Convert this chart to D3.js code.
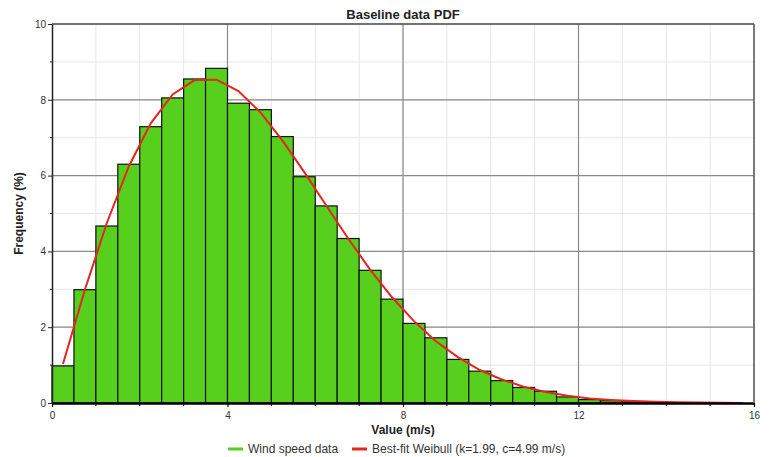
<!DOCTYPE html>
<html>
<head>
<meta charset="utf-8">
<script src="https://cdn.jsdelivr.net/npm/d3@7"></script>
<style>
  body { margin: 0; background: #fff; }
  svg { display: block; font-family: "Liberation Sans", Arial, sans-serif; }
</style>
</head>
<body>
<svg id="chart" width="769" height="457"></svg>
<script>
// Histogram bins (m/s), 0.5 m/s wide
const binStarts = d3.range(0, 16, 0.5);
const binFreq = [
  0.98, 2.99, 4.67, 6.30, 7.29, 8.05, 8.55, 8.83,
  7.91, 7.74, 7.03, 5.97, 5.20, 4.34, 3.50, 2.74,
  2.10, 1.72, 1.15, 0.84, 0.59, 0.41, 0.31, 0.16,
  0.09, 0.06, 0.03, 0.02, 0.01, 0.01, 0, 0
];

// Best-fit Weibull, read at bin centres
const fitX = d3.range(0.25, 16, 0.5);
const fitY = [
  1.03, 2.99, 4.75, 6.24, 7.38, 8.14, 8.52, 8.53,
  8.23, 7.67, 6.93, 6.09, 5.21, 4.34, 3.52, 2.79,
  2.16, 1.63, 1.21, 0.87, 0.62, 0.43, 0.29, 0.19,
  0.12, 0.08, 0.05, 0.03, 0.02, 0.01, 0.006, 0.003
];

const xTicks = [0, 4, 8, 12, 16];
const yTicks = [0, 2, 4, 6, 8, 10];

const svg = d3.select('#chart');
const margin = { left: 52, right: 15, top: 24, bottom: 54 };
const W = 769, H = 457;
const x = d3.scaleLinear().domain([0, 16]).range([margin.left, W - margin.right]);
const y = d3.scaleLinear().domain([0, 10]).range([H - margin.bottom, margin.top]);

const [x0, x1] = x.range();
const [y0, y1] = y.range();

// minor grid
const grid = svg.append('g');
grid.selectAll('.vminor').data(d3.range(1, 16)).join('line')
  .attr('x1', d => x(d)).attr('x2', d => x(d))
  .attr('y1', y0).attr('y2', y1)
  .attr('stroke', '#e6e6e6').attr('stroke-width', 1);
grid.selectAll('.hminor').data(d3.range(1, 10)).join('line')
  .attr('class', 'hminor')
  .attr('x1', x0).attr('x2', x1)
  .attr('y1', d => y(d)).attr('y2', d => y(d))
  .attr('stroke', '#e6e6e6').attr('stroke-width', 1);

// major grid
grid.selectAll('.vmajor').data(xTicks.slice(1)).join('line')
  .attr('class', 'vmajor')
  .attr('x1', d => x(d)).attr('x2', d => x(d))
  .attr('y1', y0).attr('y2', y1)
  .attr('stroke', '#8a8a8a').attr('stroke-width', 1.2);
grid.selectAll('.hmajor').data(yTicks.slice(1)).join('line')
  .attr('class', 'hmajor')
  .attr('x1', x0).attr('x2', x1)
  .attr('y1', d => y(d)).attr('y2', d => y(d))
  .attr('stroke', d => d === 10 ? '#444' : '#8a8a8a').attr('stroke-width', d => d === 10 ? 1.5 : 1.2);

// bars
const binW = 0.5;
svg.append('g').selectAll('rect')
  .data(binStarts.map((s, i) => ({ s, v: binFreq[i] })))
  .join('rect')
  .attr('x', d => x(d.s))
  .attr('y', d => y(d.v))
  .attr('width', d => x(d.s + binW) - x(d.s))
  .attr('height', d => y(0) - y(d.v))
  .attr('fill', '#56cf1d')
  .attr('stroke', '#111')
  .attr('stroke-width', 1.2);

// fitted curve
const line = d3.line().x(d => x(d[0])).y(d => y(d[1]));
svg.append('path')
  .datum(fitX.map((v, i) => [v, fitY[i]]))
  .attr('d', line)
  .attr('fill', 'none')
  .attr('stroke', '#e5261c')
  .attr('stroke-width', 2);

// axes
const xAxis = d3.axisBottom(x).tickValues(xTicks).tickSize(4).tickSizeOuter(0);
const gx = svg.append('g').attr('transform', `translate(0,${y0})`).call(xAxis);
gx.select('.domain').attr('stroke', '#000').attr('stroke-width', 2.5);
gx.selectAll('.tick line').attr('stroke', '#000').attr('stroke-width', 1.2);
gx.selectAll('.tick text').attr('font-size', 10).attr('fill', '#333').attr('dy', '0.9em');
gx.selectAll('.minor').data(d3.range(1, 16).filter(d => d % 4)).join('line')
  .attr('class', 'minor')
  .attr('x1', d => x(d)).attr('x2', d => x(d))
  .attr('y1', 0).attr('y2', 3).attr('stroke', '#000');

const yAxis = d3.axisLeft(y).tickValues(yTicks).tickSize(4).tickSizeOuter(0);
const gy = svg.append('g').attr('transform', `translate(${x0},0)`).call(yAxis);
gy.select('.domain').attr('stroke', '#222').attr('stroke-width', 1.5);
gy.selectAll('.tick line').attr('stroke', '#222');
gy.selectAll('.tick text').attr('font-size', 10).attr('fill', '#333').attr('x', -6);
gy.selectAll('.minor').data(d3.range(1, 10, 2)).join('line')
  .attr('class', 'minor')
  .attr('x1', -2).attr('x2', 0)
  .attr('y1', d => y(d)).attr('y2', d => y(d)).attr('stroke', '#222');

// right frame
svg.append('line').attr('x1', x1).attr('x2', x1).attr('y1', y0).attr('y2', y1)
  .attr('stroke', '#666').attr('stroke-width', 1.5);

// titles
svg.append('text').attr('x', (x0 + x1) / 2).attr('y', 19)
  .attr('text-anchor', 'middle').attr('font-size', 13).attr('font-weight', 'bold')
  .attr('fill', '#222').text('Baseline data PDF');
svg.append('text').attr('x', (x0 + x1) / 2).attr('y', 434)
  .attr('text-anchor', 'middle').attr('font-size', 12).attr('font-weight', 'bold')
  .attr('fill', '#222').text('Value (m/s)');
svg.append('text')
  .attr('transform', `translate(23,${(y0 + y1) / 2}) rotate(-90)`)
  .attr('text-anchor', 'middle').attr('font-size', 12).attr('font-weight', 'bold')
  .attr('fill', '#222').text('Frequency (%)');

// legend
const legendItems = [
  { label: 'Wind speed data', color: '#56cf1d', x: 228 },
  { label: 'Best-fit Weibull (k=1.99, c=4.99 m/s)', color: '#e5261c', x: 352 }
];
const lg = svg.append('g').attr('transform', 'translate(0,449)');
lg.selectAll('line').data(legendItems).join('line')
  .attr('x1', d => d.x).attr('x2', d => d.x + 15)
  .attr('y1', 0).attr('y2', 0)
  .attr('stroke', d => d.color).attr('stroke-width', 3);
lg.selectAll('text').data(legendItems).join('text')
  .attr('x', d => d.x + 20).attr('y', 4)
  .attr('font-size', 12).attr('fill', '#333')
  .text(d => d.label);
</script>
</body>
</html>
